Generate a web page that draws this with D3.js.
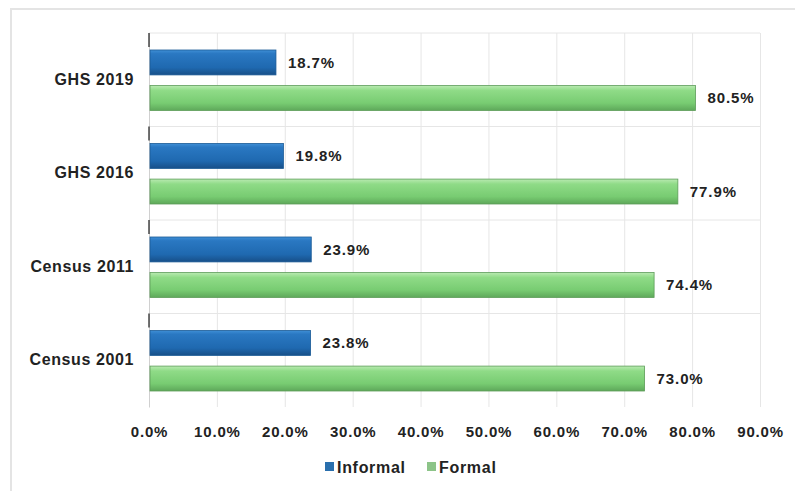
<!DOCTYPE html>
<html>
<head>
<meta charset="utf-8">
<script src="https://cdn.jsdelivr.net/npm/d3@7"></script>
<style>
  body { margin: 0; background: #fff; }
  text { font-family: "Liberation Sans", Arial, sans-serif; font-weight: bold; fill: #222; }
</style>
</head>
<body>
<div class="chart"></div>
<script>
const categories = ["GHS 2019", "GHS 2016", "Census 2011", "Census 2001"];
const seriesNames = ["Informal", "Formal"];
const informal = [18.7, 19.8, 23.9, 23.8];
const formal = [80.5, 77.9, 74.4, 73.0];
const xTicks = [0, 10, 20, 30, 40, 50, 60, 70, 80, 90];

const W = 795, H = 491;
const margin = { top: 33, right: 35, bottom: 84, left: 149 };
const width = W - margin.left - margin.right;
const height = H - margin.top - margin.bottom;
const FONT = "'Liberation Sans', Arial, sans-serif";

const svg = d3.select(".chart").append("svg")
  .attr("width", W).attr("height", H);

// outer chart border
svg.append("rect")
  .attr("x", 11).attr("y", 9).attr("width", W).attr("height", H)
  .attr("fill", "none").attr("stroke", "#e4e4e4").attr("stroke-width", 2);

const defs = svg.append("defs");
function grad(id, stops) {
  const g = defs.append("linearGradient").attr("id", id)
    .attr("x1", "0%").attr("y1", "0%").attr("x2", "0%").attr("y2", "100%");
  stops.forEach(([o, c]) => g.append("stop").attr("offset", o).attr("stop-color", c));
}
grad("blueGrad", [["0%", "#3f8fd6"], ["15%", "#2a78c2"], ["70%", "#1f69b0"], ["100%", "#174f88"]]);
grad("greenGrad", [["0%", "#b9eab1"], ["20%", "#8fdb87"], ["70%", "#78cc72"], ["100%", "#5ea85a"]]);

const g = svg.append("g").attr("transform", `translate(${margin.left},${margin.top})`);

const x = d3.scaleLinear().domain([0, 90]).range([0, width]);
const y = d3.scaleBand().domain(categories).range([0, height]).paddingInner(0).paddingOuter(0);
const inner = d3.scaleBand().domain(seriesNames).range([17, y.bandwidth() - 16]).paddingInner(0.3);

// vertical grid
g.append("g")
  .call(d3.axisBottom(x).tickValues(xTicks).tickSize(height).tickFormat(""))
  .call(s => s.select(".domain").remove())
  .call(s => s.selectAll("line").attr("stroke", "#e6e6e6"));

// horizontal grid at category boundaries
g.append("g")
  .selectAll("line")
  .data(categories)
  .join("line")
  .attr("x1", 0).attr("x2", width)
  .attr("y1", d => y(d)).attr("y2", d => y(d))
  .attr("stroke", "#e6e6e6");

// x axis labels
g.append("g")
  .attr("transform", `translate(0,${height})`)
  .call(d3.axisBottom(x).tickValues(xTicks).tickSize(0).tickPadding(19).tickFormat(d => d.toFixed(1) + "%"))
  .call(s => s.select(".domain").remove())
  .call(s => s.selectAll("text").attr("font-size", 15).attr("fill", "#333")
    .style("letter-spacing", "0.8px")
    .style("font-family", FONT).style("font-weight", "bold"));

// y axis
g.append("g")
  .call(d3.axisLeft(y).tickSize(0).tickPadding(15))
  .call(s => s.select(".domain").attr("stroke", "#d0d0d0"))
  .call(s => s.selectAll("text").attr("font-size", 16).attr("fill", "#222")
    .style("letter-spacing", "0.6px")
    .style("font-family", FONT).style("font-weight", "bold"));

g.append("g")
  .selectAll("line")
  .data(categories)
  .join("line")
  .attr("x1", 0).attr("x2", 0)
  .attr("y1", d => y(d)).attr("y2", d => y(d) + 14)
  .attr("stroke", "#444").attr("stroke-width", 1.5);

const rows = categories.map((c, i) => ({ cat: c, values: [informal[i], formal[i]] }));

const groups = g.selectAll(".row").data(rows).join("g")
  .attr("transform", d => `translate(0,${y(d.cat)})`);

groups.selectAll("rect")
  .data(d => d.values.map((v, j) => ({ key: seriesNames[j], v })))
  .join("rect")
  .attr("x", 1)
  .attr("y", d => inner(d.key))
  .attr("width", d => x(d.v) - 1)
  .attr("height", inner.bandwidth())
  .attr("fill", d => d.key === "Informal" ? "url(#blueGrad)" : "url(#greenGrad)")
  .attr("stroke", d => d.key === "Informal" ? "#1a5a96" : "#5c9c58")
  .attr("stroke-width", 0.8);

groups.selectAll(".val")
  .data(d => d.values.map((v, j) => ({ key: seriesNames[j], v })))
  .join("text")
  .attr("class", "val")
  .attr("x", d => x(d.v) + 12)
  .attr("y", d => inner(d.key) + inner.bandwidth() / 2)
  .attr("dy", "0.35em")
  .attr("font-size", 15)
  .style("letter-spacing", "0.9px")
  .text(d => d.v.toFixed(1) + "%");

// legend
const legend = svg.append("g").attr("transform", "translate(325,467)");
const items = [
  { name: "Informal", color: "#2a6fad", x: 0 },
  { name: "Formal", color: "#8cc488", x: 102 }
];
const li = legend.selectAll("g").data(items).join("g")
  .attr("transform", d => `translate(${d.x},0)`);
li.append("rect").attr("x", 0).attr("y", -5).attr("width", 9).attr("height", 9)
  .attr("fill", d => d.color);
li.append("text").attr("x", 12).attr("dy", "0.35em").attr("font-size", 16)
  .style("letter-spacing", "0.7px")
  .text(d => d.name);
</script>
</body>
</html>
